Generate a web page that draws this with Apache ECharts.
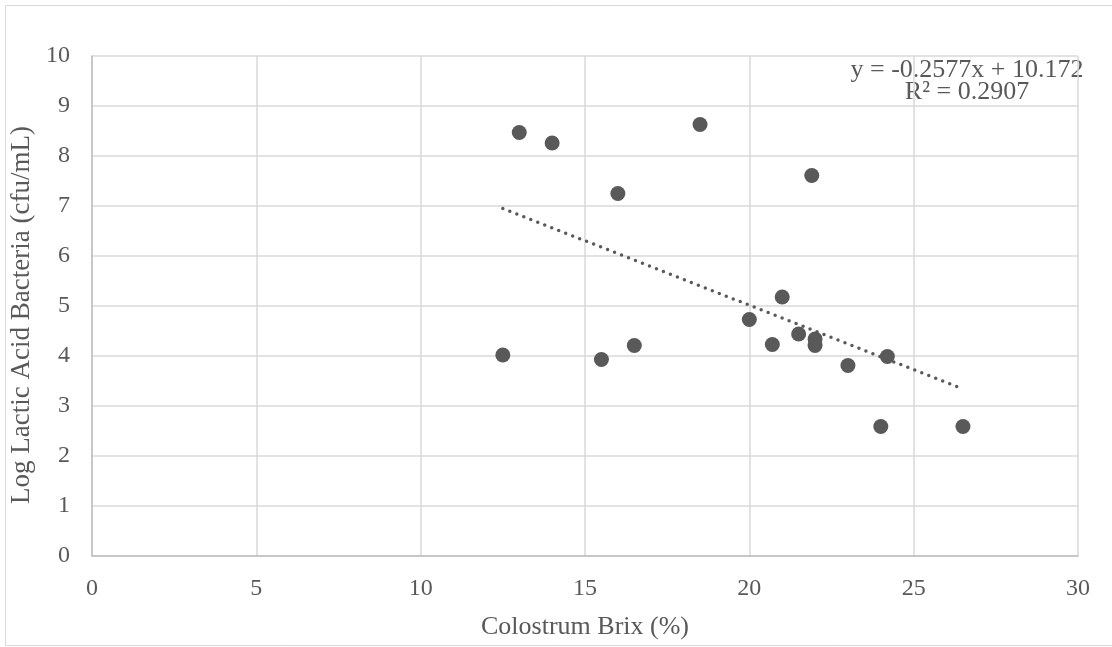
<!DOCTYPE html>
<html>
<head>
<meta charset="utf-8">
<script src="https://cdn.jsdelivr.net/npm/echarts@6/dist/echarts.min.js"></script>
<style>
    html, body { margin: 0; padding: 0; background: #fff; }
    #scatter { width: 1112px; height: 647px; }
</style>
</head>
<body>
<div id="scatter"></div>
<script>
// colostrum brix (%) vs log LAB
let brix = [12.5, 13, 14, 15.5, 16, 16.5, 18.5, 20, 20.7, 21, 21.5, 21.9, 22, 22, 23, 24, 24.2, 26.5];
let logLab = [4.02, 8.47, 8.26, 3.93, 7.25, 4.21, 8.63, 4.73, 4.23, 5.18, 4.44, 7.61, 4.34, 4.21, 3.81, 2.59, 3.99, 2.59];

// end points of the linear trend line
let trendX = [12.5, 26.5];
let trendY = [6.95, 3.34];

let xTicks = [0, 5, 10, 15, 20, 25, 30];
let yTicks = [0, 1, 2, 3, 4, 5, 6, 7, 8, 9, 10];

function scatter() {
    let chart = echarts.init(document.getElementById('scatter'));

    let pts = brix.map(function (x, i) { return [x, logLab[i]]; });
    let trend = trendX.map(function (x, i) { return [x, trendY[i]]; });

    let font = '"Liberation Serif", "Times New Roman", serif';
    let grey = '#595959';

    let option = {
        backgroundColor: '#fff',
        textStyle: { fontFamily: font },
        animation: false,
        grid: {
            left: 92,
            right: 34,
            top: 56,
            bottom: 91
        },
        graphic: [
            {
                type: 'rect',
                shape: { x: 5.5, y: 5.5, width: 1200, height: 640 },
                style: { fill: 'none', stroke: '#d9d9d9', lineWidth: 1 },
                silent: true
            },
            {
                type: 'text',
                x: 967,
                y: 59,
                style: {
                    text: 'y = -0.2577x + 10.172\nR² = 0.2907',
                    fill: grey,
                    font: '26px ' + font,
                    lineHeight: 22,
                    align: 'center'
                }
            }
        ],
        xAxis: {
            type: 'value',
            min: xTicks[0],
            max: xTicks[xTicks.length - 1],
            interval: 5,
            name: 'Colostrum Brix (%)',
            nameLocation: 'middle',
            nameGap: 58,
            nameTextStyle: { color: grey, fontSize: 26, fontFamily: font },
            axisLine: { show: true, lineStyle: { color: '#bfbfbf', width: 1.5 } },
            axisTick: { show: false },
            axisLabel: { color: grey, fontSize: 24, fontFamily: font, margin: 21 },
            splitLine: { show: true, lineStyle: { color: '#d9d9d9', width: 1.5 } }
        },
        yAxis: {
            type: 'value',
            min: yTicks[0],
            max: yTicks[yTicks.length - 1],
            interval: 1,
            name: 'Log Lactic Acid Bacteria (cfu/mL)',
            nameLocation: 'middle',
            nameGap: 48,
            nameTextStyle: { color: grey, fontSize: 27, fontFamily: font, padding: [0, 18, 0, 0] },
            axisLine: { show: true, lineStyle: { color: '#bfbfbf', width: 1.5 } },
            axisTick: { show: false },
            axisLabel: { color: grey, fontSize: 24, fontFamily: font, margin: 22 },
            splitLine: { show: true, lineStyle: { color: '#d9d9d9', width: 1.5 } }
        },
        series: [
            {
                name: 'trend',
                type: 'line',
                data: trend,
                symbol: 'none',
                silent: true,
                lineStyle: {
                    color: grey,
                    width: 3.5,
                    type: [0, 7.5],
                    cap: 'round'
                },
                z: 3
            },
            {
                name: 'LAB',
                type: 'scatter',
                data: pts,
                symbolSize: 15,
                itemStyle: { color: grey, opacity: 1 },
                z: 4
            }
        ]
    };

    chart.setOption(option);
}

new scatter();
</script>
</body>
</html>
